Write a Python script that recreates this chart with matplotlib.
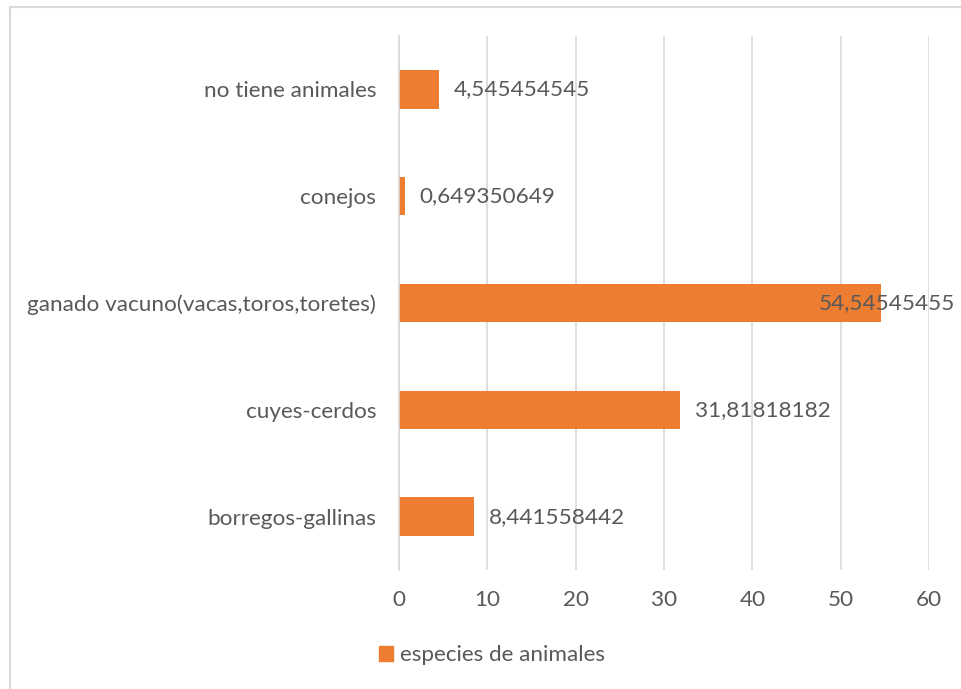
import matplotlib
matplotlib.use("Agg")
import matplotlib.pyplot as plt
from matplotlib.patches import Rectangle, Patch

categories = ["borregos-gallinas", "cuyes-cerdos", "ganado vacuno(vacas,toros,toretes)", "conejos", "no tiene animales"]
values = [8.441558442, 31.81818182, 54.54545455, 0.649350649, 4.545454545]
labels = ["8,441558442", "31,81818182", "54,54545455", "0,649350649", "4,545454545"]
xticks = [0, 10, 20, 30, 40, 50, 60]
series_name = "especies de animales"

orange = "#ED7D31"
txt = "#595959"
grid = "#D9D9D9"
fs = 16.2
plt.rcParams['font.family'] = ['Lato', 'DejaVu Sans']

W, H = 962, 689
fig = plt.figure(figsize=(W / 100, H / 100), dpi=100)
ax = fig.add_axes([399 / W, 1 - 570 / H, (929 - 399) / W, (570 - 36) / H])

ax.barh(range(len(categories)), values, height=0.36, color=orange, zorder=3)
ax.set_xlim(0, 60)
ax.set_ylim(-0.5, len(categories) - 0.5)
ax.set_xticks(xticks)
ax.set_xticklabels([str(t) for t in xticks], color=txt, fontsize=fs)
ax.tick_params(axis='both', length=0)
ax.set_yticks(range(len(categories)))
ax.set_yticklabels(categories, color=txt, fontsize=fs)
ax.tick_params(axis='x', pad=14.5)
ax.tick_params(axis='y', pad=16.5)
ax.grid(axis='x', color=grid, linewidth=1.2, zorder=0)
for s in ["top", "right", "bottom"]:
    ax.spines[s].set_visible(False)
ax.spines["left"].set_color(grid)
ax.spines["left"].set_linewidth(1.2)
ax.spines["left"].set_zorder(4)

for i, (v, lab) in enumerate(zip(values, labels)):
    if v > 50:
        ax.annotate(lab, xy=(v, i), xytext=(-62, 0), textcoords='offset pixels',
                    ha='left', va='center', color=txt, fontsize=fs, zorder=5)
    else:
        ax.annotate(lab, xy=(v, i), xytext=(15, 0), textcoords='offset pixels',
                    ha='left', va='center', color=txt, fontsize=fs, zorder=5)

fig.legend(handles=[Patch(color=orange, label=series_name)], loc='center',
           bbox_to_anchor=(492 / W, 1 - 655 / H), frameon=False, fontsize=fs,
           labelcolor=txt, handlelength=0.65, handleheight=0.65, handletextpad=0.3)

fig.patches.append(Rectangle((10 / W, -0.1), 1.0, 1 - 7 / H + 0.1, transform=fig.transFigure,
                             fill=False, edgecolor=grid, linewidth=1.5))

fig.savefig("out.png", dpi=100)
